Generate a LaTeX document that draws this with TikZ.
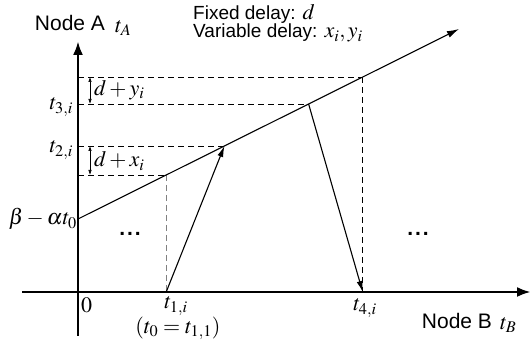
\documentclass[tikz,border=0pt]{standalone}
\usepackage{mathptmx}
\usepackage[no-math]{fontspec}
\setmainfont{Liberation Sans}
\usetikzlibrary{arrows.meta}

\tikzset{
  axis/.style={line width=2.8pt,-{Latex[length=14pt,width=10pt]}},
  msg/.style={line width=1.1pt,-{Latex[length=11pt,width=6pt]}},
  guide/.style={dashed,dash pattern=on 6pt off 4pt,line width=0.7pt},
  span/.style={line width=0.6pt,{Latex[length=5pt,width=3.5pt]}-{Latex[length=5pt,width=3.5pt]}},
  lbl/.style={font=\fontsize{21}{22}\selectfont,inner sep=1pt},
  note/.style={font=\fontsize{19}{18}\selectfont,inner sep=0pt},
  mlbl/.style={font=\fontsize{22}{22}\selectfont,inner sep=1pt}
}
\newcommand{\notemath}[1]{{\fontsize{22}{22}\selectfont$#1$}}

\begin{document}
\begin{tikzpicture}[x=1pt,y=1pt]
  \useasboundingbox (0,0) rectangle (532,352);
  % axes
  \coordinate (O) at (78,60);
  \coordinate (ybot) at (78,16);
  \coordinate (ytop) at (78,311);
  \coordinate (xbeg) at (22,60);
  \coordinate (xend) at (531,60);
  % clock line of node A
  \coordinate (c0) at (78,133);
  \coordinate (c1) at (459,323);
  \coordinate (p1) at (166.2,177);
  \coordinate (p2) at (224.4,206);
  \coordinate (p3) at (308.6,248);
  \coordinate (p4) at (362.7,275);
  \coordinate (t1) at (166.2,60);
  \coordinate (t4) at (362.7,60);
  % guides
  \foreach \p/\h in {p1/177,p2/206,p3/248,p4/275} {
    \draw[guide] (78,\h) -- (\p);
  }
  \draw[guide,gray] (p1) -- (t1);
  \draw[guide] (p4) -- (t4);
  \draw[axis] (ybot) -- (ytop);
  \draw[axis] (xbeg) -- (xend);
  \draw[line width=1.1pt,-{Latex[length=12pt,width=7pt]}] (c0) -- (c1);
  \draw[msg] (t1) -- (p2);
  \draw[msg] (p3) -- (t4);
  \draw[span] (90,177) -- (90,206);
  \draw[span] (90,248) -- (90,275);
  % labels
  \node[lbl] (nA) at (70,329) {Node A};
  \node[mlbl,anchor=west] (tA) at (114,324) {$t_A$};
  \node[note,anchor=base west] (fix) at (193,332) {Fixed delay: \notemath{d}};
  \node[note,anchor=base west] (var) at (193,314) {Variable delay: \notemath{x_i, y_i}};
  \node[mlbl,anchor=west] (dy) at (93,262) {$d+y_i$};
  \node[mlbl,anchor=west] (dx) at (93,191) {$d+x_i$};
  \node[mlbl,anchor=east] (t3) at (74,245) {$t_{3,i}$};
  \node[mlbl,anchor=east] (t2) at (74,202) {$t_{2,i}$};
  \node[mlbl,anchor=east] (beta) at (78,133) {$\beta-\alpha t_0$};
  \node[lbl,font=\fontsize{21}{22}\selectfont\bfseries] (dl) at (130,118) {.\kern2pt.\kern2pt.};
  \node[lbl,font=\fontsize{21}{22}\selectfont\bfseries] (dr) at (418,118) {.\kern2pt.\kern2pt.};
  \node[mlbl,anchor=west] (zero) at (80,47) {$0$};
  \node[mlbl] (lt1) at (176,46) {$t_{1,i}$};
  \node[mlbl] (lt0) at (178,24) {$(t_0=t_{1,1})$};
  \node[mlbl] (lt4) at (365,44) {$t_{4,i}$};
  \node[lbl] (nB) at (457,31) {Node B};
  \node[mlbl,anchor=west] (tB) at (499,27) {$t_B$};
\end{tikzpicture}
\end{document}
